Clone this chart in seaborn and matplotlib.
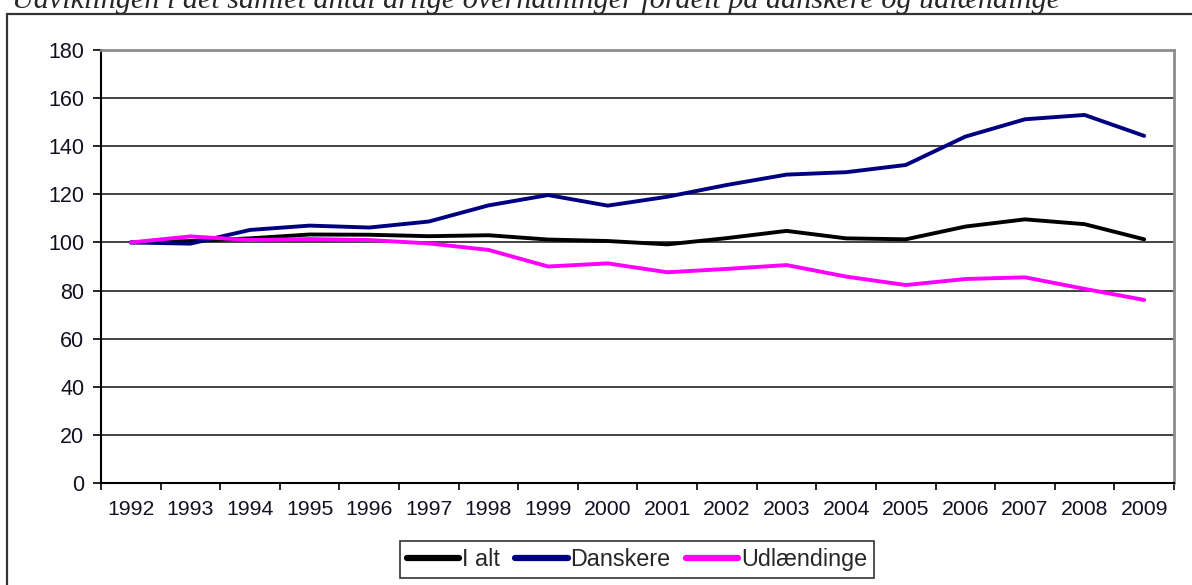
import matplotlib

matplotlib.use("Agg")
import matplotlib.pyplot as plt
import pandas as pd
import seaborn as sns
from matplotlib.lines import Line2D
from matplotlib.ticker import FixedLocator

years = list(range(1992, 2010))
i_alt = [100, 100.6, 101.7, 103.3, 103.2, 102.6, 103.0, 101.2, 100.6, 99.2,
         101.8, 104.8, 101.7, 101.3, 106.6, 109.6, 107.6, 101.3]
danskere = [100, 99.5, 105.2, 107.0, 106.2, 108.7, 115.4, 119.7, 115.3, 119.0,
            123.9, 128.2, 129.2, 132.2, 144.0, 151.2, 153.0, 144.3]
udlaendinge = [100, 102.5, 101.0, 101.4, 101.0, 99.6, 96.9, 90.0, 91.3, 87.6,
               89.0, 90.6, 85.8, 82.3, 84.8, 85.5, 80.7, 76.1]
series_names = ["I alt", "Danskere", "Udlændinge"]
y_ticks = list(range(0, 181, 20))
title = "Udviklingen i det samlet antal årlige overnatninger fordelt på danskere og udlændinge"

frame = pd.DataFrame({
    "year": years * 3,
    "value": i_alt + danskere + udlaendinge,
    "series": [n for n in series_names for _ in years],
})

sns.set_theme(style="white")
plt.rcParams["font.family"] = ["Liberation Sans", "DejaVu Sans"]

W, H = 1192, 585
fig = plt.figure(figsize=(W / 100, H / 100), dpi=100)
ax = fig.add_axes([101 / W, 1 - 483 / H, (1174 - 101) / W, (483 - 50) / H])

palette = {"I alt": "#000000", "Danskere": "#000080", "Udlændinge": "#ff00ff"}
sns.lineplot(data=frame, x="year", y="value", hue="series", palette=palette,
             hue_order=series_names, linewidth=2.8, ax=ax, legend=False)

ax.set_xlim(1991.5, 2009.5)
ax.set_ylim(0, 180)
ax.set_yticks(y_ticks)
ax.set_yticklabels([str(v) for v in y_ticks], fontsize=15.5, color="#111122")
ax.set_xticks(years)
ax.set_xticklabels([str(y) for y in years], fontsize=15.3, color="#111122")
ax.xaxis.set_minor_locator(FixedLocator([y + 0.5 for y in range(1991, 2010)]))
ax.tick_params(axis="x", which="major", length=0, pad=12)
ax.tick_params(axis="x", which="minor", length=5, width=1.2, color="black",
               direction="out", bottom=True)
ax.tick_params(axis="y", length=6, width=1.2, color="black", direction="out",
               left=True, pad=6)
ax.set_xlabel("")
ax.set_ylabel("")

for v in y_ticks[1:-1]:
    ax.axhline(v, color="#222222", linewidth=1.2, zorder=0.5)

ax.spines["left"].set_color("black")
ax.spines["bottom"].set_color("black")
ax.spines["left"].set_linewidth(1.5)
ax.spines["bottom"].set_linewidth(1.5)
ax.spines["top"].set_color("#8c8c8c")
ax.spines["right"].set_color("#8c8c8c")
ax.spines["top"].set_linewidth(2)
ax.spines["right"].set_linewidth(2)

handles = [Line2D([], [], color=palette[n], linewidth=4.5, solid_capstyle="round")
           for n in series_names]
leg = fig.legend(handles, series_names, loc="center", ncol=3,
                 bbox_to_anchor=(637 / W, 1 - 559.5 / H), fontsize=16.8,
                 frameon=True, fancybox=False, handlelength=2.25,
                 handletextpad=0.12, columnspacing=0.65, borderpad=0.3,
                 borderaxespad=0)
leg.get_frame().set_edgecolor("black")
leg.get_frame().set_linewidth(1.2)

# outer frame (left and top edges visible)
fig.add_artist(Line2D([7.5 / W, 7.5 / W], [0, 1 - 14 / H], transform=fig.transFigure,
                      color="#333333", linewidth=1.6))
fig.add_artist(Line2D([7.5 / W, 1], [1 - 14 / H, 1 - 14 / H], transform=fig.transFigure,
                      color="#333333", linewidth=1.6))

fig.text(12 / W, 1 - 7.5 / H, title, fontsize=21.7, style="italic",
         family=["Liberation Serif", "DejaVu Serif"], ha="left", va="baseline")

fig.savefig("out.png", dpi=100)
